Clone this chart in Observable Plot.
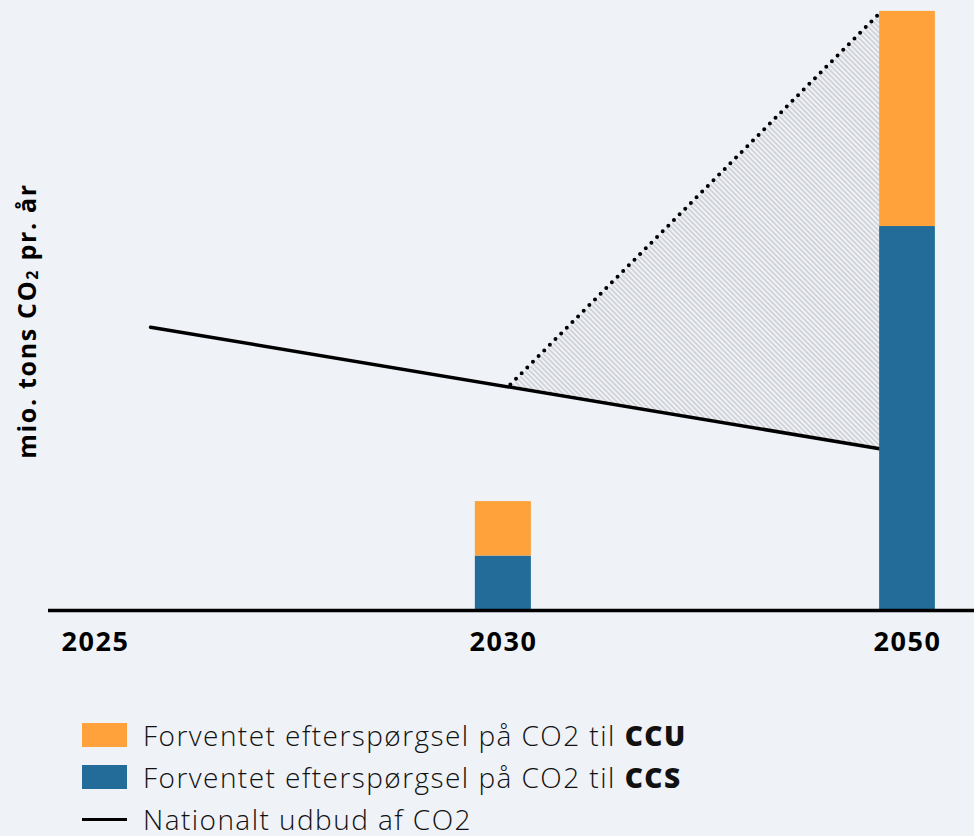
<!DOCTYPE html>
<html>
<head>
<meta charset="utf-8">
<script src="https://cdn.jsdelivr.net/npm/d3@7"></script>
<script src="https://cdn.jsdelivr.net/npm/@observablehq/plot@0.6"></script>
<style>
  html, body { margin: 0; padding: 0; background: #eff2f7; }
  body { width: 974px; height: 836px; overflow: hidden; font-family: "Open Sans", sans-serif; }
  #chart svg { display: block; background: #eff2f7; }
  #chart svg g[aria-label="x-axis tick label"] text { font-weight: 700; letter-spacing: 1.6px; }
  .legend { margin-top: 34px; padding-left: 82px; }
  .row { display: flex; align-items: center; height: 42px; font-size: 28px; font-weight: 300; color: #111; letter-spacing: 1.45px; white-space: nowrap; }
  .sw { width: 45px; height: 24px; margin-right: 16px; flex: none; }
  .ln { width: 45px; height: 3px; background: #000; margin-right: 16px; flex: none; }
  .row b { font-weight: 800; margin-left: 9px; }
</style>
</head>
<body>
<div id="chart"></div>
<script>
// ---- data ----
const years = ["2025", "2030", "2050"];
const slots = [0, 1, 2];
const ccsValues = [0, 1.0, 7.05];
const ccuValues = [0, 1.0, 3.95];
// National supply line (slot position, value)
const supplyPos = [0.135, 1.931];
const supplyVal = [5.2, 2.97];
// Dotted upper demand path (slot position, value)
const potentialPos = [1.017, 1.926];
const potentialVal = [4.15, 10.93];
// hatched gap between supply line and dotted path
const gapPos = [1.017, 1.931];
const gapLow = [4.1, 2.97];
const gapHigh = [4.1, 10.93];

const colors = { ccu: "#ffa23b", ccs: "#236b98" };
const barHalf = 0.069;

const bars = [];
slots.forEach((s, i) => {
  if (ccsValues[i] > 0) bars.push({ slot: s, y1: 0, y2: ccsValues[i], key: "ccs" });
  if (ccuValues[i] > 0) bars.push({ slot: s, y1: ccsValues[i], y2: ccsValues[i] + ccuValues[i], key: "ccu" });
});
const supply = supplyPos.map((p, i) => ({ p, v: supplyVal[i] }));
const potential = potentialPos.map((p, i) => ({ p, v: potentialVal[i] }));
const gap = gapPos.map((p, i) => ({ p, lo: gapLow[i], hi: gapHigh[i] }));

const W = 974, H = 680;
const plot = Plot.plot({
  width: W,
  height: H,
  marginLeft: 48,
  marginRight: 0,
  marginTop: 0,
  marginBottom: H - 610,
  style: { background: "#eff2f7", fontFamily: "Open Sans, sans-serif" },
  x: { type: "linear", domain: [0, 1, 2], range: [95, 503, 907], axis: null },
  y: { domain: [0, 11.2], range: [610, 0], axis: null },
  marks: [
    Plot.areaY(gap, { x: "p", y1: "lo", y2: "hi", fill: "url(#hatch)" }),
    Plot.line(potential, { x: "p", y: "v", stroke: "#000", strokeWidth: 4, strokeDasharray: "0 8", strokeLinecap: "round" }),
    Plot.line(supply, { x: "p", y: "v", stroke: "#000", strokeWidth: 3.5 }),
    Plot.rect(bars, { x1: d => d.slot - barHalf, x2: d => d.slot + barHalf, y1: "y1", y2: "y2", fill: d => colors[d.key] }),
    Plot.ruleY([0], { stroke: "#000", strokeWidth: 3.5 }),
    Plot.axisX({ ticks: slots, tickFormat: i => years[i], tickSize: 0, tickPadding: 21, fontSize: 27, fill: "#000", label: null })
  ]
});

const svg = d3.select(plot);
const defs = svg.insert("defs", ":first-child");
const pat = defs.append("pattern")
  .attr("id", "hatch").attr("patternUnits", "userSpaceOnUse")
  .attr("width", 3.6).attr("height", 3.6).attr("patternTransform", "rotate(-45)");
pat.append("rect").attr("width", 3.6).attr("height", 3.6).attr("fill", "#eff2f7");
pat.append("line").attr("x1", 0.9).attr("y1", 0).attr("x2", 0.9).attr("y2", 3.6)
  .attr("stroke", "#cfd1d7").attr("stroke-width", 1.7);

const lab = svg.append("text")
  .attr("transform", "translate(26,321) rotate(-90)")
  .attr("text-anchor", "middle")
  .attr("dominant-baseline", "central")
  .attr("font-family", "Open Sans, sans-serif")
  .attr("letter-spacing", "1.7px")
  .attr("font-size", 25).attr("font-weight", 700).attr("fill", "#000");
lab.append("tspan").text("mio. tons CO");
lab.append("tspan").attr("font-size", 16).attr("dy", 6).text("2");
lab.append("tspan").attr("dy", -6).text(" pr. år");

document.getElementById("chart").appendChild(plot);

// legend
const legend = document.createElement("div");
legend.className = "legend";
legend.innerHTML = `
  <div class="row"><div class="sw" style="background:${colors.ccu}"></div>Forventet efterspørgsel på CO2 til<b>CCU</b></div>
  <div class="row"><div class="sw" style="background:${colors.ccs}"></div>Forventet efterspørgsel på CO2 til<b>CCS</b></div>
  <div class="row"><div class="ln"></div>Nationalt udbud af CO2</div>`;
document.body.appendChild(legend);
</script>
</body>
</html>
